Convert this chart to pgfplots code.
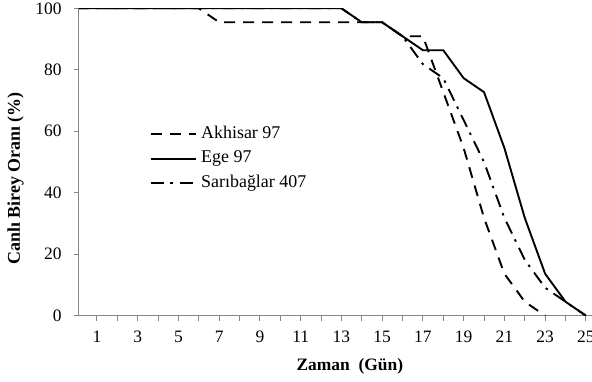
\documentclass[border=0pt]{standalone}
\usepackage{fontspec}
\setmainfont{Liberation Serif}
\usepackage{pgfplots}
\pgfplotsset{compat=1.18}
\definecolor{axgray}{RGB}{134,134,134}
\begin{document}
\fontsize{17.5}{20}\selectfont
\begin{tikzpicture}
\begin{axis}[
  scale only axis, width=513bp, height=307.4bp,
  xmin=0.12, xmax=25.3, ymin=0, ymax=100,
  axis x line*=bottom, axis y line*=left,
  axis line style={axgray, line width=1bp, -},
  tick style={axgray, line width=0.9bp},
  tick align=outside,
  major tick length=5bp, minor tick length=5bp,
  xtick={1,3,...,25}, minor xtick={2,4,...,24},
  ytick={0,20,...,100},
  /pgf/number format/assume math mode=true,
  ticklabel style={font=\fontsize{17.5}{20}\selectfont, text=black},
  xticklabel style={yshift=-4bp},
  yticklabel style={xshift=-6.5bp},
  xlabel={\bfseries Zaman\ \ (Gün)},
  xlabel style={font=\fontsize{17.5}{20}\selectfont, at={(axis description cs:0.528,-0.166)}, anchor=center},
  ylabel={\bfseries Canlı Birey Oranı (\%)},
  ylabel style={font=\fontsize{18}{20}\selectfont, at={(axis description cs:-0.1238,0.446)}, anchor=center},
  legend cell align=left,
  legend image code/.code={\draw[#1] (0bp,0bp) -- (45bp,0bp);},
  legend style={draw=none, fill=none, inner sep=0pt, outer sep=0pt,
    at={(0.138,0.622)}, anchor=north west, row sep=5bp, column sep=2.5bp,
    font=\fontsize{18}{20}\selectfont,
    nodes={text height=12bp, text depth=3.5bp, inner sep=2bp}},
  clip=true,
]
\coordinate (sw) at (rel axis cs:0,0);
\coordinate (ne) at (rel axis cs:1,1);
\addplot[black, line width=1.9bp, dash pattern=on 11bp off 8bp] coordinates {
(0,100)(1,100)(2,100)(3,100)(4,100)(5,100)(6,100)(7,95.45)(8,95.45)(9,95.45)(10,95.45)
(11,95.45)(12,95.45)(13,95.45)(14,95.45)(15,95.45)(16,90.91)(17,90.91)(18,72.73)
(19,54.55)(20,31.82)(21,13.64)(22,4.55)(23,0)};
\addlegendentry{Akhisar 97}
\addplot[black, line width=1.9bp] coordinates {
(0,100)(1,100)(2,100)(3,100)(4,100)(5,100)(6,100)(7,100)(8,100)(9,100)(10,100)
(11,100)(12,100)(13,100)(14,95.45)(15,95.45)(16,90.91)(17,86.36)(18,86.36)
(19,77.27)(20,72.73)(21,54.55)(22,31.82)(23,13.64)(24,4.55)(25,0)};
\addlegendentry{Ege 97}
\addplot[black, line width=1.9bp, dash pattern=on 13bp off 6.5bp on 2.5bp off 7bp] coordinates {
(0,100)(1,100)(2,100)(3,100)(4,100)(5,100)(6,100)(7,100)(8,100)(9,100)(10,100)
(11,100)(12,100)(13,100)(14,95.45)(15,95.45)(16,90.91)(17,81.82)(18,77.27)
(19,63.64)(20,50)(21,31.82)(22,18.18)(23,9.09)(24,4.55)(25,0)};
\addlegendentry{Sarıbağlar 407}
\end{axis}
\path (sw) ++(-79bp,-66.3bp) coordinate (bbA);
\path (ne) ++(0bp,8.3bp) coordinate (bbB);
\pgfresetboundingbox
\path (bbA) rectangle (bbB);
\end{tikzpicture}
\end{document}
